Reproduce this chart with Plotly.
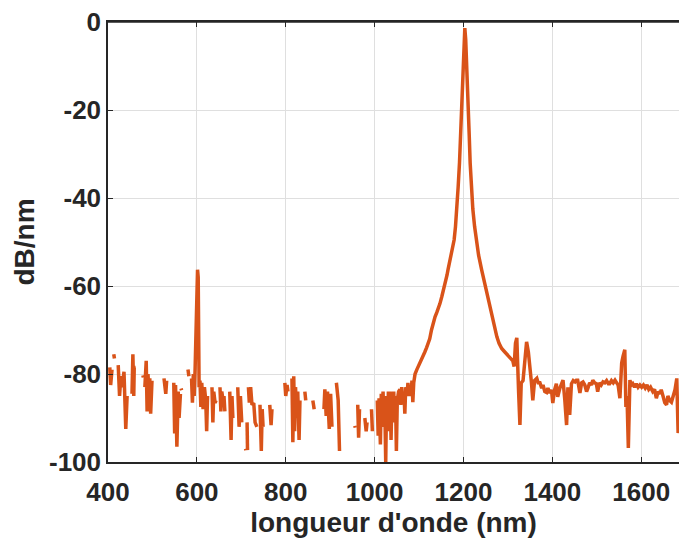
import plotly.graph_objects as go

N = None
# Noisy floor, 400-605 nm (incl. small line near 600 nm)
left_nm = [404, 406, 409, N, 413, 414.5, N, 423, 426, 429, 432, 436, 440, 443, N,
           454, 456, 458, 459, 462, N, 478.5, 479.5, N,
           483, 486, 488, 490, 492, 494, 496, 499, N, 526, 530, 532, N,
           548, 550, 552, 555, 558, 560, 563, N, 564.5, 565.5, N, 580, 582, N,
           588, 590, 592, 594, 596, 598, 600, 601.5, 603, 604, 605, 607, 609, 611,
           614, 617, 620, 622, 624, N]
left_db = [-78.5, -82.5, -79, N, -75.5, -76.5, N, -78, -85, -80.5, -83, -79.5, -92.5, -85, N,
           -84.5, -75.5, -85, -78.5, -78.5, N, -80.3, -80.8, N,
           -83, -77, -88.5, -80, -84, -81, -89, -81.5, N, -81, -84.5, -81.5, N,
           -82, -93.5, -82.5, -96.5, -84, -90, -84.5, N, -83.3, -83.7, N, -79, -80.5, N,
           -81, -86.5, -80, -85, -79, -68, -57, -56.3, -58, -72, -83, -81.5, -87.5, -82,
           -88, -83, -86, -93, -85, N]

# Noisy floor, 630-1000 nm
mid_nm = [634, 636, 638, 641, 643, N, 652, 654, 656, 659, 661, 663, N,
          674, 677, 679, 681, N, 692, 695, 698, 701, N, 709.5, 710.5, N, 713, 714, N,
          716, 718, 721, 724, 728, 731, 735, N, 742, 745, 747, 749, N, 764, 767, 769, N,
          798, 800, 803, 805, N, 814, 816, 818, 820, 822, 825, 827, 830, 832, N,
          843, 845, N, 861, 864, N, 886, 888, 891, 894, 898, 901, 904, N,
          914, 916, 918, 921, N, 955.5, 956.5, N, 962, 964, 966, N, 978, 981, 983, N,
          993, 995, N]
mid_db = [-83, -91, -84, -86.6, -86, N, -83, -88.5, -84, -86, -85, -88.5, N,
          -84, -95, -85, -90, N, -83, -92, -85, -91, N, -97, -97.3, N, -91, -97.3, N,
          -83, -86.5, -83, -87, -86.6, -91, -92, N, -87, -97.5, -88, -92, N, -87, -91.6, -88, N,
          -82, -85, -82.5, -84, N, -81, -95.5, -80.5, -93, -83, -90, -84, -95, -86, N,
          -84, -86, N, -86, -88, N, -88, -83.5, -89.5, -84, -92.5, -84.5, -92, N,
          -82, -85, -86, -97.5, N, -91.8, -92.2, N, -87, -94.5, -88, N, -90, -93, -91, N,
          -88, -93, N]

# Main signal 1005-1690 nm (noise, laser line at ~1203 nm, floor)
main_nm = [1006, 1008, 1010, 1013, 1015, 1017, 1019, 1021, 1023, 1025, 1027, 1029, 1031, 1033,
           1035, 1037, 1039, 1041, 1043, 1045, 1047, 1049, 1051, 1054, 1057, 1059, 1061, 1063,
           1066, 1068, 1070, 1073, 1075, 1077, 1080, 1082, 1084, 1086, 1088, 1091,
           1095, 1100, 1105, 1109, 1113, 1117, 1121, 1124, 1128, 1131, 1136, 1140, 1144, 1147,
           1151, 1155, 1158, 1161, 1163, 1165, 1168, 1171, 1174, 1176, 1179, 1182, 1185, 1188,
           1191, 1193, 1195, 1197, 1199, 1201, 1203, 1205, 1207, 1209, 1211, 1213, 1215, 1218,
           1221, 1225, 1229, 1234, 1241, 1247, 1253, 1258, 1264, 1270, 1275, 1280, 1286, 1293,
           1300, 1306, 1311, 1314, 1317, 1320, 1322, 1324, 1327, 1330, 1334, 1338, 1342, 1346,
           1350, 1353, 1356, 1360, 1365, 1368, 1372, 1376, 1379, 1383, 1387, 1390, 1394, 1398,
           1401, 1405, 1409, 1412, 1417, 1420, 1424, 1428, 1432, 1435, 1439, 1443, 1447, 1451,
           1454, 1457, 1462, 1466, 1469, 1473, 1477, 1480, 1484, 1488, 1491, 1495, 1499, 1502,
           1506, 1510, 1514, 1518, 1522, 1526, 1529, 1533, 1537, 1541, 1545, 1548, 1552, 1556,
           1559, 1563, 1565.5, 1568, 1571, 1574.5, 1578, 1581, 1585, 1589, 1593, 1597, 1601,
           1605, 1609, 1613, 1617, 1621, 1626, 1630, 1634, 1638, 1642, 1645, 1649, 1653, 1657,
           1660, 1664, 1668, 1672, 1676, 1680, 1683, 1686]
main_db = [-86, -94, -85.5, -96, -84.5, -90, -84, -92, -88, -100, -85, -93, -84, -89,
           -84, -95, -85, -88, -84, -91, -85, -97.5, -86, -84, -83.5, -87, -83, -86,
           -84, -89, -83, -84.5, -82, -85, -82.5, -85, -81.5, -86.4, -82, -80,
           -79, -78, -77, -76, -75, -74, -73, -72, -70, -68.5, -67, -66, -65, -64,
           -62.5, -61, -60, -58.5, -57.5, -56.4, -55, -53.5, -52.5, -51.5, -49.5, -46.5, -43, -37.5,
           -32, -27, -20.5, -14, -8.6, -4, -1.4, -4, -8.6, -14, -20, -26, -32, -38,
           -42.5, -46.5, -50, -53, -56.4, -59, -61.5, -64.5, -67, -69.5, -71.5, -73, -74.2, -75,
           -75.7, -76.3, -77, -78.3, -73, -71.8, -76, -84, -91.6, -82, -81.5, -76, -72.7, -75,
           -78.5, -82, -86, -81.5, -81, -82, -82, -83.2, -82.5, -84, -84.2, -83.2, -84.3, -83.6,
           -86.6, -83.6, -82.2, -85.2, -83.2, -82.5, -81.4, -85.9, -91.6, -83, -89.3, -82.2, -81.5, -81.8,
           -81.4, -81.4, -84.3, -82, -81.8, -82.5, -84, -83.2, -82, -82.5, -81.4, -82, -82.2, -84,
           -82, -82.5, -81.8, -82, -81.5, -82.2, -82.2, -81.5, -82, -81.4, -82, -82.5, -85.5, -77.5,
           -76, -74.5, -87.5, -85, -96.8, -81.4, -82.5, -82.2, -83, -82.2, -83, -82.5, -83,
           -82.5, -83.2, -82.5, -83.5, -83, -84, -83.5, -85.5, -84, -84.5, -83.6, -85, -86.5, -87,
           -85, -86, -86.4, -85, -83.6, -81, -93.4, -92]

x_ticks = [400, 600, 800, 1000, 1200, 1400, 1600]
x_tick_labels = ["400", "600", "800", "1000", "1200", "1400", "1600"]
y_ticks = [-100, -80, -60, -40, -20, 0]
y_tick_labels = ["-100", "-80", "-60", "-40", "-20", "0"]

wl = left_nm + mid_nm + main_nm
db = left_db + mid_db + main_db

fig = go.Figure(go.Scatter(x=wl, y=db, mode="lines", connectgaps=False,
                           line=dict(color="#D95319", width=3.5), showlegend=False))

axis_common = dict(showgrid=True, gridcolor="#dfdfdf", gridwidth=1, zeroline=False,
                   showline=True, linecolor="#262626", linewidth=1.5, automargin=False,
                   ticks="inside", ticklen=5, tickcolor="#262626", tickwidth=1.2,
                   ticklabeloverflow="allow",
                   tickfont=dict(family="Liberation Sans", size=26, color="#262626", weight="bold"))

fig.update_layout(
    width=679, height=545,
    margin=dict(l=108, r=0, t=22, b=83),
    plot_bgcolor="white", paper_bgcolor="white",
    xaxis=dict(range=[400, 1685], tickvals=x_ticks, ticktext=x_tick_labels, mirror="ticks",
               ticklabelstandoff=6,
               title=dict(text="longueur d'onde (nm)", standoff=6,
                          font=dict(family="Liberation Sans", size=28, color="#262626", weight="bold")),
               **axis_common),
    yaxis=dict(range=[-100, 0], tickvals=y_ticks, ticktext=y_tick_labels, mirror=False,
               title=dict(text="dB/nm", standoff=6,
                          font=dict(family="Liberation Sans", size=28, color="#262626", weight="bold")),
               **axis_common),
    shapes=[dict(type="line", xref="paper", yref="paper", x0=0, x1=1, y0=1, y1=1,
                 line=dict(color="#262626", width=1.5), layer="above")],
)

fig.write_html("out.html", config={"displayModeBar": False},
               post_script="document.body.style.margin='0';document.body.style.overflow='hidden';")
